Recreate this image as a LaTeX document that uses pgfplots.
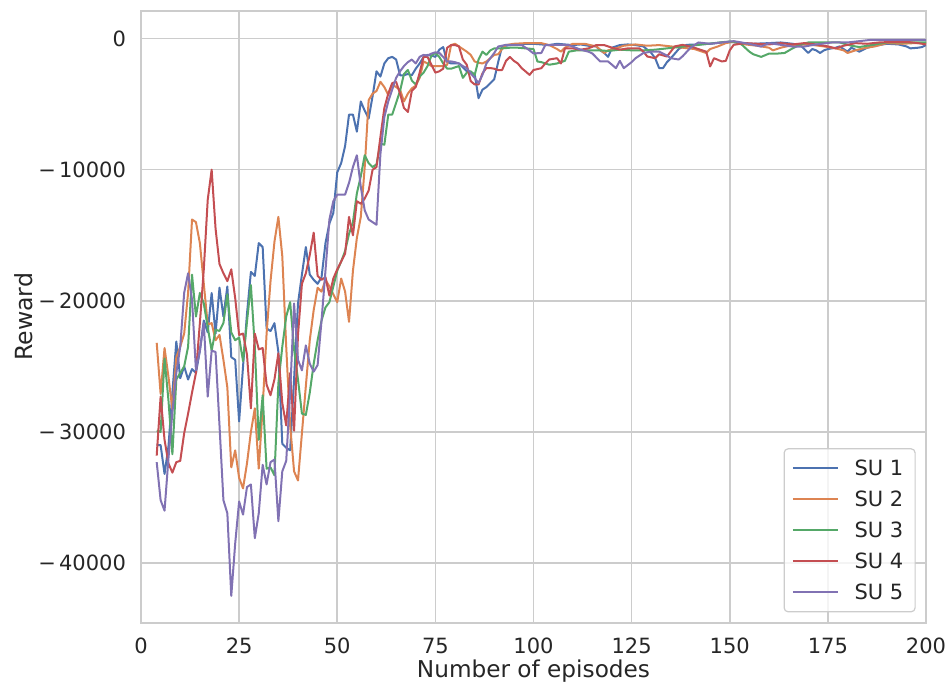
\documentclass[border=0pt]{standalone}
\usepackage{fontspec}
\setmainfont{DejaVu Sans}
\usepackage{pgfplots}
\pgfplotsset{compat=1.18}

\definecolor{suA}{HTML}{4C72B0}
\definecolor{suB}{HTML}{DD8452}
\definecolor{suC}{HTML}{55A868}
\definecolor{suD}{HTML}{C44E52}
\definecolor{suE}{HTML}{8172B3}
\definecolor{gridc}{HTML}{CCCCCC}
\definecolor{txt}{HTML}{262626}

\begin{document}
\begin{tikzpicture}
\useasboundingbox (-70.5pt,-30.65pt) rectangle (403pt,311.4pt);
\begin{axis}[
    at={(0pt,0pt)}, anchor=south west,
    scale only axis, width=392.5pt, height=305.9pt,
    xmin=0, xmax=200, ymin=-44550, ymax=2100,
    xtick={0,25,50,75,100,125,150,175,200},
    xticklabels={0,25,50,75,100,125,150,175,200},
    ytick={-40000,-30000,-20000,-10000,0},
    yticklabels={−\hspace{1.6pt}40000,−\hspace{1.6pt}30000,−\hspace{1.6pt}20000,−\hspace{1.6pt}10000,0},
    major tick length=0pt,
    grid=major,
    major grid style={gridc, line width=0.75pt},
    axis line style={gridc, line width=0.8pt},
    ticklabel style={font=\fontsize{10.5}{12}\selectfont, text=txt},
    xticklabel style={yshift=-4pt},
    yticklabel style={xshift=-4pt},
    xlabel={Number of episodes},
    ylabel={Reward},
    every axis x label/.style={at={(axis description cs:0.5,0)}, anchor=north, yshift=-15pt,
        font=\fontsize{11.6}{14}\selectfont, text=txt},
    every axis y label/.style={at={(axis description cs:-0.129,0.5)}, rotate=90, anchor=south,
        font=\fontsize{11.8}{14}\selectfont, text=txt},
    legend cell align=left,
    legend image code/.code={\draw[#1] (0pt,0pt) -- (22.5pt,0pt);},
    legend style={at={(axis description cs:1,0)}, anchor=south east,
        xshift=-5.15pt, yshift=5.2pt,
        draw=gridc, line width=0.6pt, rounded corners=2pt,
        fill=white, fill opacity=0.8, text opacity=1,
        font=\fontsize{10.5}{12}\selectfont, text=txt,
        inner sep=3.9pt, row sep=3.8pt, column sep=5.8pt,
        nodes={inner sep=2pt, text height=7.7pt, text depth=0pt}},
    every axis plot/.append style={line width=1pt, line join=round},
]
% SU 1
\addplot[suA] coordinates {
(4,-31000) (5,-31000) (6,-33200) (7,-31100) (8,-27000) (9,-23100) (10,-25900)
(11,-25000) (12,-26000) (13,-25200) (14,-25500) (15,-23800) (16,-21500) (17,-22400)
(18,-19400) (19,-22500) (20,-19000) (21,-21200) (22,-18900) (23,-24300) (24,-24500)
(25,-29200) (26,-25000) (27,-21000) (28,-17800) (29,-18100) (30,-15600) (31,-15900)
(32,-22100) (33,-22300) (34,-21700) (35,-23900) (36,-30900) (37,-31200) (38,-31400)
(39,-26000) (40,-20200) (41,-18000) (42,-15900) (43,-18000) (44,-18400) (45,-18700)
(46,-18200) (47,-15600) (48,-14100) (49,-13300) (50,-10200) (51,-9500) (52,-8200)
(53,-5800) (54,-5800) (55,-7100) (56,-4800) (57,-5500) (58,-6100) (59,-4400)
(60,-2500) (61,-2900) (62,-1900) (63,-1500) (64,-1400) (65,-1600) (66,-2800)
(67,-2800) (68,-2700) (69,-2800) (70,-2300) (71,-1900) (72,-1400) (73,-1250)
(74,-1300) (75,-1400) (76,-850) (77,-650) (78,-1800) (79,-1900) (80,-1900)
(81,-1900) (82,-2200) (83,-2500) (84,-2600) (85,-2700) (86,-4550) (87,-3900)
(88,-3700) (89,-3400) (90,-3100) (91,-1800) (92,-600) (94,-500) (96,-450)
(98,-400) (100,-400) (102,-450) (104,-500) (106,-400) (108,-450) (110,-500)
(112,-450) (114,-550) (116,-600) (117,-900) (118,-1100) (119,-1400) (120,-700)
(122,-500) (124,-450) (126,-500) (128,-600) (129,-850) (130,-1100) (131,-1500)
(132,-2250) (133,-2250) (134,-1800) (135,-1500) (137,-800) (139,-480) (142,-450)
(145,-400) (148,-300) (150,-250) (153,-350) (156,-400) (160,-350) (163,-300)
(166,-400) (168,-500) (170,-1100) (171,-800) (172,-900) (173,-1100) (174,-900)
(175,-800) (177,-700) (178,-600) (180,-1000) (181,-700) (183,-1000) (185,-700)
(187,-550) (190,-400) (193,-450) (195,-600) (196,-750) (198,-700) (199,-650)
(200,-500)
};
\addlegendentry{SU 1}
% SU 2
\addplot[suB] coordinates {
(4,-23200) (5,-27100) (6,-23600) (7,-25800) (8,-28300) (9,-24300) (10,-23500)
(11,-22500) (12,-19400) (13,-13800) (14,-14000) (15,-15600) (16,-18700) (17,-21800)
(18,-21700) (19,-23000) (20,-22600) (21,-24500) (22,-26600) (23,-32700) (24,-31400)
(25,-33500) (26,-34300) (27,-32400) (28,-30000) (29,-28200) (30,-32800) (31,-28100)
(32,-22500) (33,-18500) (34,-15500) (35,-13600) (36,-16600) (37,-23500) (38,-29500)
(39,-33000) (40,-33700) (41,-30100) (42,-26500) (43,-23000) (44,-20700) (45,-19000)
(46,-19300) (47,-18400) (48,-18900) (49,-19500) (50,-20100) (51,-18300) (52,-19300)
(53,-21600) (54,-17700) (55,-15200) (56,-13600) (57,-9800) (58,-4700) (59,-4200)
(60,-4000) (61,-3300) (62,-3700) (63,-4300) (64,-3500) (65,-3700) (66,-3900)
(67,-4800) (68,-4200) (69,-3800) (70,-3600) (71,-3000) (72,-1750) (73,-1900)
(74,-2100) (75,-2100) (76,-2100) (77,-2100) (78,-2000) (79,-500) (80,-400)
(81,-600) (82,-800) (83,-1000) (84,-1250) (85,-1750) (86,-1850) (87,-1900)
(88,-1750) (89,-1500) (90,-1250) (91,-1200) (92,-800) (93,-500) (95,-400)
(98,-350) (100,-350) (102,-350) (104,-500) (106,-800) (107,-1000) (108,-700)
(110,-400) (113,-400) (116,-600) (118,-1100) (119,-900) (121,-750) (123,-550)
(126,-450) (129,-550) (132,-500) (135,-600) (138,-700) (141,-800) (143,-1000)
(144,-1100) (145,-800) (147,-600) (149,-350) (151,-250) (154,-450) (157,-550)
(160,-700) (161,-900) (163,-700) (166,-500) (170,-450) (174,-600) (177,-750)
(179,-900) (180,-1100) (182,-900) (184,-750) (187,-600) (190,-350) (194,-400)
(197,-350) (200,-350)
};
\addlegendentry{SU 2}
% SU 3
\addplot[suC] coordinates {
(4,-29900) (5,-30000) (6,-24400) (7,-27600) (8,-31700) (9,-26000) (10,-25500)
(11,-25000) (12,-23500) (13,-18000) (14,-21200) (15,-19400) (16,-20200) (17,-22000)
(18,-23800) (19,-22200) (20,-22300) (21,-21700) (22,-19500) (23,-22400) (24,-23000)
(25,-22800) (26,-24600) (27,-21600) (28,-18800) (29,-23500) (30,-30600) (31,-27200)
(32,-32800) (33,-32700) (34,-33300) (35,-26300) (36,-23500) (37,-21200) (38,-20100)
(39,-23700) (40,-26000) (41,-28600) (42,-28700) (43,-27000) (44,-24800) (45,-23000)
(46,-21500) (47,-20500) (48,-20100) (49,-18900) (50,-17700) (51,-17000) (52,-16200)
(53,-14900) (54,-14000) (55,-11800) (56,-10500) (57,-8900) (58,-9500) (59,-9800)
(60,-9600) (61,-8000) (62,-8100) (63,-5800) (64,-5800) (65,-4900) (66,-4000)
(67,-2700) (68,-2400) (69,-3200) (70,-3500) (71,-2900) (72,-2600) (73,-2100)
(74,-1300) (75,-1100) (76,-1400) (77,-1900) (78,-2300) (79,-2300) (80,-2200)
(81,-2100) (82,-3000) (83,-2600) (84,-2500) (85,-2800) (86,-1600) (87,-1000)
(88,-1250) (89,-900) (90,-750) (92,-750) (94,-700) (96,-700) (98,-750)
(100,-800) (101,-1750) (102,-1800) (104,-2000) (106,-1900) (108,-1700) (109,-1000)
(111,-900) (114,-900) (117,-900) (119,-950) (122,-850) (125,-900) (128,-900)
(131,-850) (134,-750) (137,-650) (140,-550) (143,-450) (146,-350) (149,-250)
(151,-230) (153,-450) (155,-1000) (156,-1200) (158,-1400) (160,-1150) (162,-1150)
(164,-1100) (166,-750) (168,-450) (170,-300) (174,-300) (178,-300) (181,-550)
(183,-650) (186,-500) (190,-300) (195,-300) (200,-300)
};
\addlegendentry{SU 3}
% SU 4
\addplot[suD] coordinates {
(4,-31800) (5,-27300) (6,-30600) (7,-32400) (8,-33100) (9,-32300) (10,-32200)
(11,-30100) (12,-28600) (13,-27000) (14,-25500) (15,-21700) (16,-17600) (17,-12300)
(18,-10000) (19,-14500) (20,-17200) (21,-17900) (22,-18500) (23,-17600) (24,-19800)
(25,-22600) (26,-22500) (27,-24100) (28,-28200) (29,-22500) (30,-23700) (31,-23600)
(32,-26400) (33,-27200) (34,-26000) (35,-24000) (36,-27800) (37,-29500) (38,-25500)
(39,-29900) (40,-22600) (41,-18700) (42,-17900) (43,-16500) (44,-14800) (45,-18100)
(46,-18400) (47,-18200) (48,-19600) (49,-18300) (50,-17600) (51,-17000) (52,-16400)
(53,-13600) (54,-15000) (55,-12400) (56,-12600) (57,-12200) (58,-11600) (59,-10000)
(60,-9800) (61,-7500) (62,-5300) (63,-4200) (64,-3400) (65,-3300) (66,-4200)
(67,-5300) (68,-5600) (69,-4000) (70,-3700) (71,-2600) (72,-1400) (73,-1400)
(74,-2000) (75,-2600) (76,-2500) (77,-2300) (78,-700) (79,-500) (80,-500)
(81,-600) (82,-1600) (83,-2000) (84,-3250) (85,-3500) (86,-3500) (87,-2650)
(88,-2250) (89,-2250) (90,-2300) (91,-2400) (92,-2400) (93,-1700) (94,-1400)
(95,-1700) (96,-1900) (97,-2260) (99,-2770) (100,-2400) (102,-2260) (103,-1900)
(104,-1600) (106,-1500) (107,-1900) (108,-750) (110,-750) (112,-850) (114,-750)
(116,-500) (118,-500) (120,-700) (122,-850) (124,-750) (127,-750) (128,-1000)
(129,-1370) (131,-1500) (132,-1200) (134,-1370) (136,-600) (138,-480) (141,-700)
(144,-1000) (145,-2130) (146,-1500) (148,-1750) (149,-1700) (150,-900) (151,-480)
(154,-350) (157,-400) (160,-450) (163,-350) (166,-450) (169,-350) (172,-450)
(175,-600) (177,-750) (179,-550) (182,-350) (185,-400) (188,-300) (192,-250)
(195,-250) (198,-350) (200,-450)
};
\addlegendentry{SU 4}
% SU 5
\addplot[suE] coordinates {
(4,-32300) (5,-35200) (6,-36000) (7,-32000) (8,-28500) (9,-25500) (10,-23500)
(11,-19400) (12,-17900) (13,-19900) (14,-25300) (15,-23800) (16,-21700) (17,-27300)
(18,-23800) (19,-23900) (20,-29500) (21,-35200) (22,-36200) (23,-42500) (24,-38500)
(25,-35300) (26,-36300) (27,-34200) (28,-34000) (29,-38100) (30,-36200) (31,-32500)
(32,-34000) (33,-32300) (34,-32100) (35,-36800) (36,-33000) (37,-32200) (38,-27000)
(39,-20200) (40,-24500) (41,-25300) (42,-23400) (43,-24800) (44,-25400) (45,-24900)
(46,-21500) (47,-17700) (48,-13800) (49,-12400) (50,-11900) (51,-11900) (52,-11900)
(53,-11000) (54,-9800) (55,-8900) (56,-11300) (57,-13100) (58,-13800) (59,-14000)
(60,-14200) (61,-8800) (62,-6000) (63,-4800) (64,-3900) (65,-3000) (66,-2500)
(67,-2100) (68,-1800) (69,-1600) (70,-1900) (71,-1400) (72,-1250) (73,-1300)
(74,-1150) (75,-1050) (76,-1100) (77,-1400) (78,-1750) (79,-1750) (80,-1800)
(81,-1900) (82,-2100) (83,-2260) (84,-2650) (85,-3000) (86,-3400) (87,-2770)
(88,-1900) (89,-1500) (90,-1100) (91,-610) (93,-480) (95,-480) (97,-500)
(99,-900) (100,-1140) (102,-1100) (103,-500) (106,-480) (109,-500) (112,-850)
(114,-1000) (115,-1140) (117,-1750) (119,-1750) (120,-2000) (121,-2260) (122,-1700)
(123,-2260) (125,-1800) (126,-1500) (128,-1100) (130,-1000) (132,-1000) (134,-1300)
(135,-1500) (137,-1600) (138,-1350) (140,-700) (142,-300) (145,-400) (148,-300)
(151,-200) (153,-300) (156,-480) (158,-610) (160,-350) (163,-480) (166,-610)
(169,-610) (172,-450) (176,-300) (180,-300) (183,-200) (186,-100) (190,-100)
(195,-100) (200,-100)
};
\addlegendentry{SU 5}
\end{axis}
\end{tikzpicture}
\end{document}
